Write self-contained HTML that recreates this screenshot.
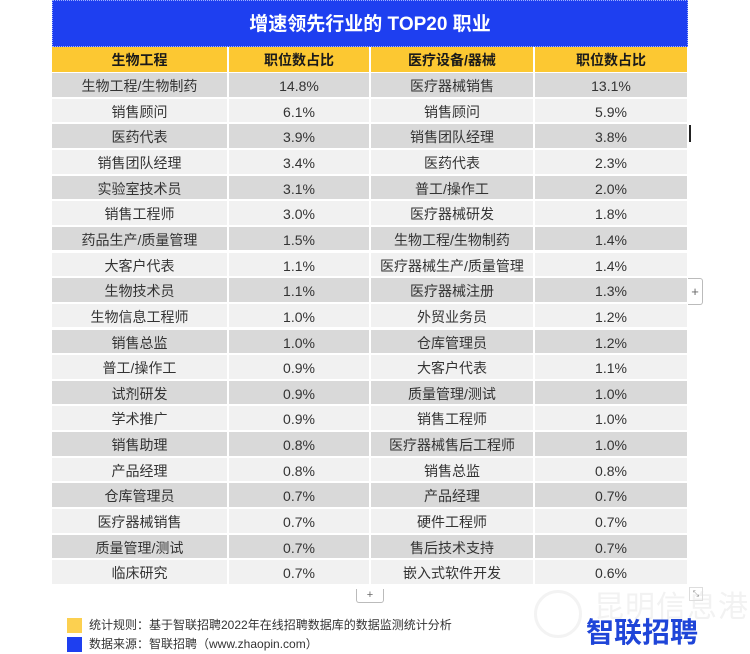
<!DOCTYPE html>
<html><head><meta charset="utf-8">
<style>
*{margin:0;padding:0;box-sizing:border-box}
html,body{width:750px;height:654px;background:#fff;overflow:hidden;font-family:"Liberation Sans","Noto Sans CJK SC",sans-serif;position:relative}
.title{position:absolute;left:52px;top:0;width:636px;height:47px;background:#1e3ff0;border:1px dotted #9fb0ff;color:#fff;font-weight:bold;font-size:19px;text-align:center;line-height:47px}
.row{position:absolute;left:52px;width:635px;height:23.6px;display:flex;gap:2px}
.row div{height:100%;text-align:center;font-size:14px;line-height:23.6px;padding-top:2px;color:#333;white-space:nowrap}
.c1{width:175px}.c2{width:140px}.c3{width:162px}.c4{width:152px}
.hd div{background:#fcc832;color:#1a1a1a;font-weight:bold;line-height:25px;padding-top:1px}
.d div{background:#d9d9d9}
.l div{background:#f1f1f1}
.lg{position:absolute;left:67px;width:15px;height:15px}
.lt{position:absolute;left:89px;font-size:12px;color:#333;line-height:15px}
.logo{position:absolute;left:586px;top:617px;font-size:28px;font-weight:bold;color:#1f45d8;line-height:32px}
.wm{position:absolute;left:594px;top:591px;font-size:30px;color:#f2f2f2;line-height:34px;letter-spacing:1px}
.wmc{position:absolute;left:534px;top:590px;width:48px;height:48px;border:3px solid #f3f3f3;border-radius:50%}
</style></head><body>
<div class="wmc"></div>
<div class="wm">昆明信息港</div>

<div class="title">增速领先行业的 TOP20 职业</div>
<div class="row hd" style="top:47px;height:25px"><div class="c1">生物工程</div><div class="c2">职位数占比</div><div class="c3">医疗设备/器械</div><div class="c4">职位数占比</div></div>

<div class="row d" style="top:73px"><div class="c1">生物工程/生物制药</div><div class="c2">14.8%</div><div class="c3">医疗器械销售</div><div class="c4">13.1%</div></div>
<div class="row l" style="top:98.65px"><div class="c1">销售顾问</div><div class="c2">6.1%</div><div class="c3">销售顾问</div><div class="c4">5.9%</div></div>
<div class="row d" style="top:124.3px"><div class="c1">医药代表</div><div class="c2">3.9%</div><div class="c3">销售团队经理</div><div class="c4">3.8%</div></div>
<div class="row l" style="top:149.95px"><div class="c1">销售团队经理</div><div class="c2">3.4%</div><div class="c3">医药代表</div><div class="c4">2.3%</div></div>
<div class="row d" style="top:175.6px"><div class="c1">实验室技术员</div><div class="c2">3.1%</div><div class="c3">普工/操作工</div><div class="c4">2.0%</div></div>
<div class="row l" style="top:201.25px"><div class="c1">销售工程师</div><div class="c2">3.0%</div><div class="c3">医疗器械研发</div><div class="c4">1.8%</div></div>
<div class="row d" style="top:226.9px"><div class="c1">药品生产/质量管理</div><div class="c2">1.5%</div><div class="c3">生物工程/生物制药</div><div class="c4">1.4%</div></div>
<div class="row l" style="top:252.55px"><div class="c1">大客户代表</div><div class="c2">1.1%</div><div class="c3">医疗器械生产/质量管理</div><div class="c4">1.4%</div></div>
<div class="row d" style="top:278.2px"><div class="c1">生物技术员</div><div class="c2">1.1%</div><div class="c3">医疗器械注册</div><div class="c4">1.3%</div></div>
<div class="row l" style="top:303.85px"><div class="c1">生物信息工程师</div><div class="c2">1.0%</div><div class="c3">外贸业务员</div><div class="c4">1.2%</div></div>
<div class="row d" style="top:329.5px"><div class="c1">销售总监</div><div class="c2">1.0%</div><div class="c3">仓库管理员</div><div class="c4">1.2%</div></div>
<div class="row l" style="top:355.15px"><div class="c1">普工/操作工</div><div class="c2">0.9%</div><div class="c3">大客户代表</div><div class="c4">1.1%</div></div>
<div class="row d" style="top:380.8px"><div class="c1">试剂研发</div><div class="c2">0.9%</div><div class="c3">质量管理/测试</div><div class="c4">1.0%</div></div>
<div class="row l" style="top:406.45px"><div class="c1">学术推广</div><div class="c2">0.9%</div><div class="c3">销售工程师</div><div class="c4">1.0%</div></div>
<div class="row d" style="top:432.1px"><div class="c1">销售助理</div><div class="c2">0.8%</div><div class="c3">医疗器械售后工程师</div><div class="c4">1.0%</div></div>
<div class="row l" style="top:457.75px"><div class="c1">产品经理</div><div class="c2">0.8%</div><div class="c3">销售总监</div><div class="c4">0.8%</div></div>
<div class="row d" style="top:483.4px"><div class="c1">仓库管理员</div><div class="c2">0.7%</div><div class="c3">产品经理</div><div class="c4">0.7%</div></div>
<div class="row l" style="top:509.05px"><div class="c1">医疗器械销售</div><div class="c2">0.7%</div><div class="c3">硬件工程师</div><div class="c4">0.7%</div></div>
<div class="row d" style="top:534.7px"><div class="c1">质量管理/测试</div><div class="c2">0.7%</div><div class="c3">售后技术支持</div><div class="c4">0.7%</div></div>
<div class="row l" style="top:560.35px"><div class="c1">临床研究</div><div class="c2">0.7%</div><div class="c3">嵌入式软件开发</div><div class="c4">0.6%</div></div>

<!-- UI bits -->
<div style="position:absolute;left:689px;top:125px;width:2px;height:17px;background:#222"></div>
<div style="position:absolute;left:688px;top:278px;width:15px;height:27px;border:1px solid #bbb;border-left:none;border-radius:0 3px 3px 0;background:#fff;font-size:13px;color:#666;text-align:center;line-height:25px">+</div>
<div style="position:absolute;left:356px;top:589px;width:28px;height:14px;border:1px solid #bbb;border-top:none;border-radius:0 0 3px 3px;background:#fff;font-size:11px;color:#666;text-align:center;line-height:13px">+</div>
<div style="position:absolute;left:689px;top:587px;width:14px;height:14px;border:1px solid #ddd;font-size:8px;color:#888;text-align:center;line-height:12px">⤡</div>

<!-- legend -->
<div class="lg" style="top:618px;background:#fcd050"></div>
<div class="lt" style="top:618px">统计规则：基于智联招聘2022年在线招聘数据库的数据监测统计分析</div>
<div class="lg" style="top:637px;background:#1e3ff0"></div>
<div class="lt" style="top:637px">数据来源：智联招聘（www.zhaopin.com）</div>

<div class="logo">智联招聘</div>
</body></html>
